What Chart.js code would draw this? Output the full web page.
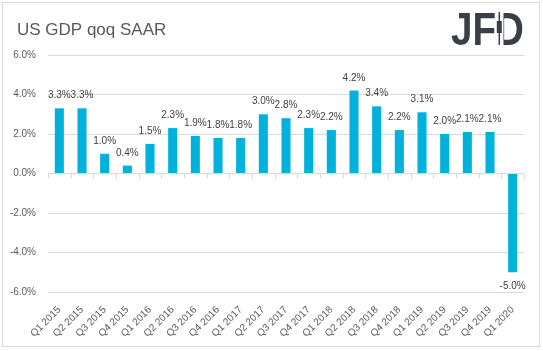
<!DOCTYPE html>
<html>
<head>
<meta charset="utf-8">
<script src="https://cdn.jsdelivr.net/npm/chart.js@4/dist/chart.umd.min.js"></script>
<style>
html,body{margin:0;padding:0;background:#fff;}
#wrap{position:relative;width:543px;height:351px;}
</style>
</head>
<body>
<div id="wrap"><canvas id="c" width="543" height="351"></canvas></div>
<script>
const chartTitle = "US GDP qoq SAAR";
const logoText = "JFD";
const categories = ["Q1 2015","Q2 2015","Q3 2015","Q4 2015","Q1 2016","Q2 2016","Q3 2016","Q4 2016","Q1 2017","Q2 2017","Q3 2017","Q4 2017","Q1 2018","Q2 2018","Q3 2018","Q4 2018","Q1 2019","Q2 2019","Q3 2019","Q4 2019","Q1 2020"];
const gdpValues = [3.3,3.3,1.0,0.4,1.5,2.3,1.9,1.8,1.8,3.0,2.8,2.3,2.2,4.2,3.4,2.2,3.1,2.0,2.1,2.1,-5.0];
const yMin = -6, yMax = 6, yStep = 2;

const FONT = "'Liberation Sans', Arial, sans-serif";

const decor = {
  id: 'decor',
  beforeDraw(chart) {
    const ctx = chart.ctx;
    ctx.save();
    ctx.fillStyle = '#fff';
    ctx.fillRect(0, 0, chart.width, chart.height);
    ctx.strokeStyle = '#d9d9d9';
    ctx.lineWidth = 1;
    ctx.strokeRect(2.5, 2.5, 537, 344);
    // title
    ctx.fillStyle = '#595959';
    ctx.font = '17px ' + FONT;
    ctx.textAlign = 'left';
    ctx.textBaseline = 'alphabetic';
    ctx.fillText(chartTitle, 17, 35);
    // logo
    ctx.font = 'bold 46px ' + FONT;
    const full = ctx.measureText(logoText).width;
    const jf = ctx.measureText(logoText.slice(0, 2)).width;
    const targetW = 73, x0 = 451, base = 45;
    const s = targetW / full;
    ctx.fillStyle = '#3a3f47';
    ctx.fillText(logoText, x0, base, targetW);
    // candlestick replacing D stem
    const dStart = x0 + jf * s;
    const stemW = 46 * 0.14 * s;
    ctx.fillStyle = '#fff';
    ctx.fillRect(dStart - 1, 8, stemW + 3, 40);
    const cx = dStart + stemW / 2 + 0.5;
    ctx.fillStyle = '#3a3f47';
    ctx.fillRect(cx - 0.75, 12, 1.5, 33);
    ctx.fillRect(cx - 2.5, 21, 5, 12);
    ctx.restore();
  },
  afterDatasetsDraw(chart) {
    const ctx = chart.ctx;
    const xs = chart.scales.x, ys = chart.scales.y;
    const zeroY = ys.getPixelForValue(0);
    ctx.save();
    // category tick marks on the zero line
    ctx.strokeStyle = '#d9d9d9';
    ctx.lineWidth = 1;
    const n = categories.length;
    const step = (xs.right - xs.left) / n;
    ctx.beginPath();
    for (let i = 0; i <= n; i++) {
      const x = Math.round(xs.left + i * step) + 0.5;
      ctx.moveTo(x, zeroY);
      ctx.lineTo(x, zeroY + 5);
    }
    ctx.stroke();
    // data labels
    const meta = chart.getDatasetMeta(0);
    ctx.fillStyle = '#404040';
    ctx.font = '10px ' + FONT;
    ctx.textAlign = 'center';
    ctx.textBaseline = 'alphabetic';
    meta.data.forEach((bar, i) => {
      const v = gdpValues[i];
      const txt = v.toFixed(1) + '%';
      if (v >= 0) ctx.fillText(txt, bar.x, bar.y - 10);
      else ctx.fillText(txt, bar.x, bar.y + 17);
    });
    ctx.restore();
  }
};

new Chart(document.getElementById('c'), {
  type: 'bar',
  data: {
    labels: categories,
    datasets: [{
      data: gdpValues,
      backgroundColor: '#00B2DB',
      borderWidth: 0,
      barPercentage: 0.4,
      categoryPercentage: 1.0
    }]
  },
  options: {
    responsive: false,
    animation: false,
    devicePixelRatio: 1,
    layout: { padding: { top: 55, right: 19, left: 0, bottom: 0 } },
    plugins: { legend: { display: false }, title: { display: false }, tooltip: { enabled: false } },
    scales: {
      x: {
        grid: { display: false },
        border: { display: false },
        ticks: {
          autoSkip: false, minRotation: 45, maxRotation: 45,
          color: '#595959', font: { family: FONT, size: 10 }, padding: 4
        },
        afterFit(scale) { scale.height = 59; }
      },
      y: {
        min: yMin, max: yMax,
        grid: { color: '#d9d9d9', lineWidth: 1, drawTicks: false },
        border: { display: false },
        ticks: {
          stepSize: yStep,
          color: '#595959', font: { family: FONT, size: 10 }, padding: 12,
          callback: v => v.toFixed(1) + '%'
        },
        afterFit(scale) { scale.width = 48; }
      }
    }
  },
  plugins: [decor]
});
</script>
</body>
</html>
